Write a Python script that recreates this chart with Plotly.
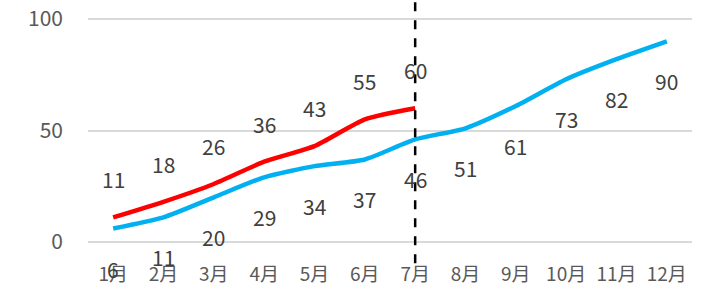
import plotly.graph_objects as go

months = ["1月", "2月", "3月", "4月", "5月", "6月", "7月", "8月", "9月", "10月", "11月", "12月"]
actual = [11, 18, 26, 36, 43, 55, 60]
plan = [6, 11, 20, 29, 34, 37, 46, 51, 61, 73, 82, 90]
y_ticks = [0, 50, 100]
marker_month = "7月"

FONT = "Noto Sans CJK SC, Noto Sans, sans-serif"

fig = go.Figure()
fig.add_trace(go.Scatter(x=months, y=plan, mode="lines",
                         line=dict(color="#00B0F0", width=4.5, shape="spline", smoothing=0.6),
                         hoverinfo="skip"))
fig.add_trace(go.Scatter(x=months[:len(actual)], y=actual, mode="lines",
                         line=dict(color="#FF0000", width=4.5, shape="spline", smoothing=0.6),
                         hoverinfo="skip"))

for m, v in zip(months, plan):
    fig.add_annotation(x=m, y=v, text=str(v), showarrow=False, yshift=-40,
                       font=dict(size=21, color="#404040", family=FONT))
for m, v in zip(months, actual):
    fig.add_annotation(x=m, y=v, text=str(v), showarrow=False, yshift=38,
                       font=dict(size=21, color="#404040", family=FONT))

fig.add_shape(type="line", xref="x", yref="paper", x0=marker_month, x1=marker_month,
              y0=-0.09, y1=1.09, line=dict(color="black", width=2.5, dash="dash"))

fig.update_layout(
    width=705, height=295,
    margin=dict(l=88, r=13, t=18, b=52),
    paper_bgcolor="white", plot_bgcolor="white",
    showlegend=False,
    font=dict(family=FONT, color="#595959"),
    xaxis=dict(range=[-0.5, 11.5], showgrid=False, zeroline=False, showline=False,
               ticks="", tickfont=dict(size=19, color="#595959"), ticklabelstandoff=18,
               automargin=False),
    yaxis=dict(range=[-0.5, 100.5], tickvals=y_ticks, showgrid=True, gridcolor="#D9D9D9",
               gridwidth=1.5, zeroline=False, showline=False, ticks="",
               tickfont=dict(size=21, color="#595959"), ticklabelstandoff=24,
               automargin=False),
)
fig.write_html("out.html", config={"displayModeBar": False},
               post_script="document.body.style.margin='0';document.body.style.overflow='hidden';")
